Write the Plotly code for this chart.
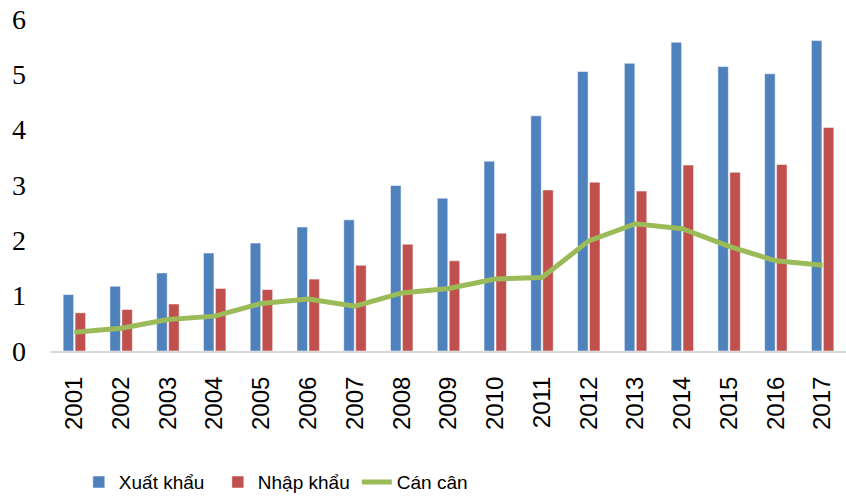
import plotly.graph_objects as go

years = [str(y) for y in range(2001, 2018)]
xuat_khau = [1.02, 1.17, 1.41, 1.77, 1.95, 2.24, 2.37, 2.99, 2.76, 3.43, 4.25,
             5.05, 5.20, 5.58, 5.14, 5.01, 5.61]
nhap_khau = [0.69, 0.75, 0.85, 1.13, 1.11, 1.30, 1.55, 1.93, 1.63, 2.13, 2.91,
             3.05, 2.89, 3.36, 3.23, 3.37, 4.04]
can_can = [0.34, 0.41, 0.57, 0.63, 0.86, 0.94, 0.81, 1.05, 1.13, 1.30, 1.33,
           1.99, 2.30, 2.21, 1.89, 1.63, 1.55]

fig = go.Figure()
fig.add_trace(go.Bar(
    x=years, y=xuat_khau, name="Xuất khẩu",
    marker=dict(color="#4F81BD", line=dict(color="rgba(255,255,255,0.5)", width=1)),
))
fig.add_trace(go.Bar(
    x=years, y=nhap_khau, name="Nhập khẩu",
    marker=dict(color="#C0504D", line=dict(color="rgba(255,255,255,0.5)", width=1)),
))
fig.add_trace(go.Scatter(
    x=years, y=can_can, name="Cán cân", mode="lines",
    line=dict(color="#9BBB59", width=5),
))

fig.update_layout(
    width=846, height=498,
    plot_bgcolor="white", paper_bgcolor="white",
    margin=dict(l=51, r=0, t=19, b=147, autoexpand=False),
    barmode="group", bargap=0.49, bargroupgap=0.12,
    showlegend=True,
    legend=dict(
        orientation="h", x=0.035, xanchor="left", y=-0.395, yanchor="middle",
        font=dict(family="Liberation Sans, Arial", size=19, color="black"),
        itemwidth=30, tracegroupgap=0,
        entrywidth=94, entrywidthmode="pixels",
    ),
    xaxis=dict(
        type="category", tickangle=-90, showgrid=False, ticks="", automargin=False,
        showline=True, linecolor="#D9D9D9", linewidth=2,
        tickfont=dict(family="Liberation Sans, Arial", size=24, color="black"),
        ticklabelstandoff=14,
    ),
    yaxis=dict(
        range=[0, 6], dtick=1, showgrid=False, zeroline=False, ticks="", automargin=False,
        tickfont=dict(family="Liberation Serif, Times New Roman", size=28, color="black"),
        ticklabelstandoff=24,
    ),
)

# drop the browser's default body margin so the figure sits at the page corner
fig.write_html("out.html", config={"displayModeBar": False},
               post_script="document.body.style.margin='0';")
